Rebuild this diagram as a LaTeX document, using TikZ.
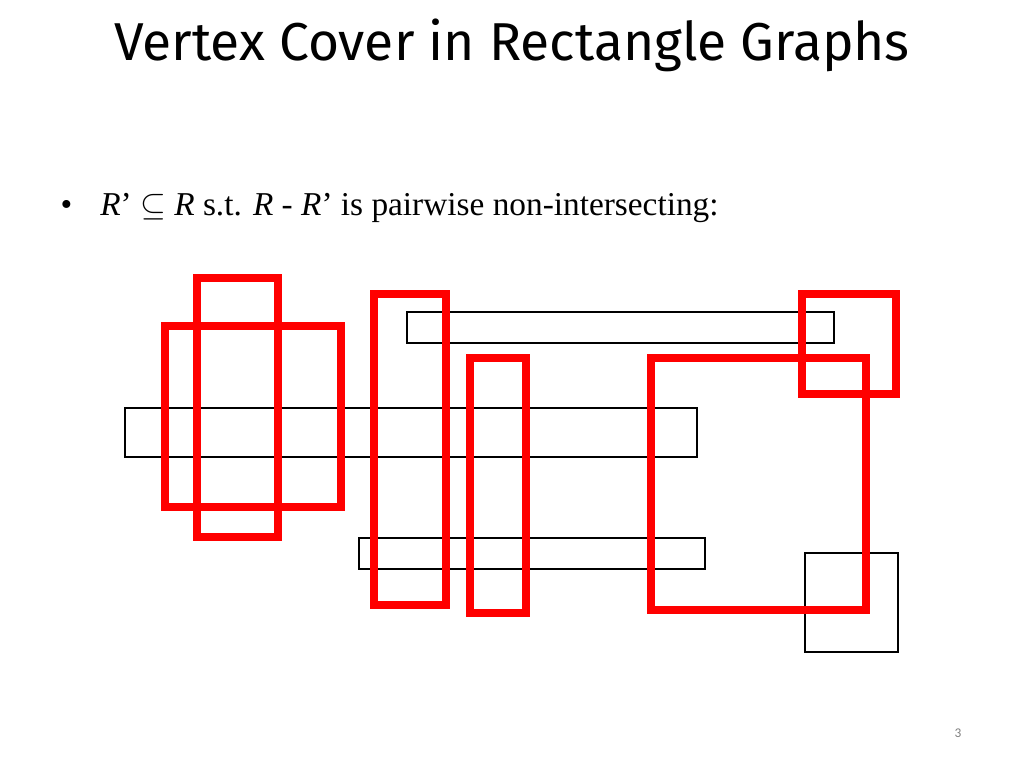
\documentclass[tikz,border=0pt]{standalone}
\usepackage{fontspec}
\setmainfont{Liberation Serif}
\newfontfamily\titlefont{Fira Sans}
\newfontfamily\numfont{Carlito}
\begin{document}
\begin{tikzpicture}[x=0.75pt,y=-0.75pt,
  redr/.style={draw=red,line width=5.4pt},
  blkr/.style={draw=black,line width=1.5pt}]
\useasboundingbox (0,0) rectangle (1024,768);
\node[font=\titlefont\fontsize{40}{44}\selectfont] (title) at (512,45) {Vertex Cover in Rectangle Graphs};
\node[anchor=west,font=\fontsize{25}{28}\selectfont] (bul) at (56,208) {\textbullet\hspace{21pt}\textit{R}’ $\subseteq$ \textit{R} s.t. \textit{R} - \textit{R}’ is pairwise non-intersecting:};
\draw[blkr] (407,312) rectangle (834,343);
\draw[blkr] (125,408) rectangle (697,457);
\draw[blkr] (359,538) rectangle (705,569);
\draw[blkr] (805,553) rectangle (898,652);
\draw[redr] (197,278) rectangle (278,537);
\draw[redr] (165,326) rectangle (341,507);
\draw[redr] (374,294) rectangle (446,605);
\draw[redr] (470,358) rectangle (526,613);
\draw[redr] (651,358) rectangle (866,610);
\draw[redr] (802,294) rectangle (896,394);
\node[font=\numfont\fontsize{10}{12}\selectfont,text=gray] (pg) at (958,733) {3};
\end{tikzpicture}
\end{document}
